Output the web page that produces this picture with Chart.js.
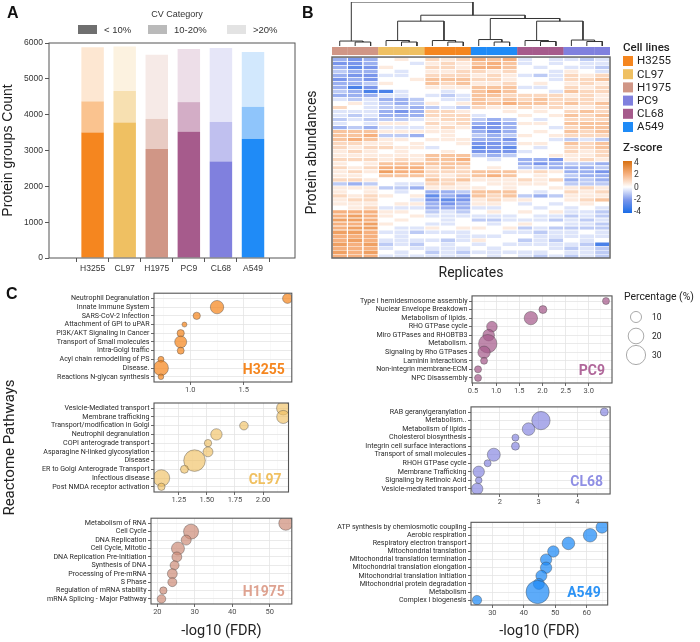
<!DOCTYPE html>
<html lang="en">
<head>
<meta charset="UTF-8" />
<title>Proteome overview of six NSCLC cell lines</title>
<script src="https://cdn.jsdelivr.net/npm/chart.js@4.4.1/dist/chart.umd.min.js"></script>
<style>
  body { margin: 0; background: #fff; overflow: hidden; }
  #fig { position: relative; width: 700px; height: 642px; background: #fff; }
  #fig canvas { position: absolute; }
  .tag { position: absolute; z-index: 5; font: bold 16px "Liberation Sans", Arial, sans-serif; color: #111; }
</style>
</head>
<body>
<div id="fig">
  <canvas id="barA" width="345" height="282" style="left:0;top:0"></canvas>
  <canvas id="dendro" width="320" height="47" style="left:300px;top:0"></canvas>
  <canvas id="heat" width="400" height="244" style="left:300px;top:40px"></canvas>
  <canvas id="cH3255" width="300" height="111" style="left:0;top:285px"></canvas>
  <canvas id="cCL97" width="300" height="220" style="left:0;top:340px"></canvas>
  <canvas id="cH1975" width="300" height="132" style="left:0;top:510px"></canvas>
  <canvas id="cPC9" width="400" height="111" style="left:300px;top:286px"></canvas>
  <canvas id="cCL68" width="320" height="112" style="left:300px;top:397px"></canvas>
  <canvas id="cA549" width="320" height="132" style="left:300px;top:510px"></canvas>
  <div class="tag" style="left:7px;top:4px">A</div>
  <div class="tag" style="left:302px;top:4px">B</div>
  <div class="tag" style="left:6px;top:285px">C</div>
</div>

<script>
  // ---------- panel A: protein groups per CV category ----------
  const cellLines = ['H3255', 'CL97', 'H1975', 'PC9', 'CL68', 'A549'];
  const cvLow  = [3500, 3780, 3040, 3520, 2690, 3330];   // < 10%
  const cvMid  = [870, 880, 840, 830, 1110, 890];        // 10-20%
  const cvHigh = [1510, 1240, 1790, 1480, 2060, 1530];   // > 20%
  const countTicks = [0, 1000, 2000, 3000, 4000, 5000, 6000];

  // ---------- panel B: z-scored heatmap ----------
  const heatGroups = ['H1975', 'CL97', 'H3255', 'A549', 'CL68', 'PC9'];
  const zCodes = 'abcdefghijklmnopq'; // a = -4 ... i = 0 ... q = +4 (steps of 0.5)
  const heatRows = [
    'fef iji kjk mlm hih hgh', 'eef iih jkj lml hih ihh', 'fde jii kkj mml ihi hhg',
    'gff ihi jjk kjk iih jih', 'fee hhi kkk jkj hgh kjk', 'efe iij lll kkj iih kkl',
    'ffg jii lkl jjk iji jkj', 'fce iii jjj lll hhi kjk', 'gfc chi ihi lml iih lkk',
    'fff hhi hgh llk kkk jkj', 'hgh ffg ihh lkl klk kkj', 'ijh gfg jij llm llk lkl',
    'kih ggf ghg kjj kjk jjk', 'hhh fef kkj iij iji klk', 'hgh fff kkk hii jij lkl',
    'ghg ggh jkk gfg ihi kkk', 'hih jji kjk fef jji lll', 'fgf hhh jkj eef iih kll',
    'lll jjj jji fef iji lkl', 'llm ggf iji gfg jij kkk', 'lml jji jjj ffe iih ghg',
    'kkj jij iij eef jji lkl', 'kjk kjj hii ded ihi kkl', 'jkj iji iji eee hii kjk',
    'jjj jjj lll gfg iij jjk', 'kkk jkj llm ihi ffe jkj', 'jij lll lll iii fef ggf',
    'kjk mmm klk iji ggf ffg', 'jkj nmm kkk lll jkj ffe', 'jji lll kjk lml iji gff',
    'kkj iii lkl jjj kjk fgf', 'gfg ihh kkj ijj jji ggg', 'jjj ggf jjj jij iij jkj',
    'jij ihi ffg lll ihi kjk', 'kjk jij dfe lkl gfg jjj', 'jkk iih ede jkj jii jkl',
    'jjj ijj fef jji hih iji', 'ijk hhh fff hhi ihi hih', 'mmm jji ghg iji jij hhg',
    'mnm jij hhh hhh ihh ghg', 'nnm iji ihi ggh hhg hgh', 'mmn jii hhi ihi jii hhg',
    'mnn ihh jij jij ghg ggg', 'nnm hhg hhh iih hgh hih', 'mmm ihi iih hhi ihh hhh',
    'mnm hhh hgh jii ghg ihi', 'nmn ghg ihi hih hhh hgc', 'mmm hih hhh ihi iih ghg',
    'nmn ihi ghg hhh hhi hhg', 'mmm hhh hhh ihi hgh ghg'
  ];
  // hclust-style merges: negative = leaf (1-based column), positive = earlier merge; last = height
  const dendroMerges = [
    [-2, -3, 4], [-1, 1, 5], [-5, -6, 4], [-4, 3, 5.5], [-8, -9, 4], [-7, 5, 5.5],
    [-11, -12, 4], [-10, 7, 6.5], [-14, -15, 4.5], [-13, 9, 5.5], [-17, -18, 4.5], [-16, 11, 6],
    [4, 6, 25], [10, 12, 25], [8, 14, 27.7], [13, 15, 31], [2, 16, 44.3]
  ];
  const zScoreTicks = ['4', '2', '0', '-2', '-4'];

  // ---------- panel C: Reactome enrichment ----------
  const h3255Paths = ['Neutrophil Degranulation', 'Innate Immune System', 'SARS-CoV-2 Infection', 'Attachment of GPI to uPAR',
    'PI3K/AKT Signaling in Cancer', 'Transport of Small molecules', 'Intra-Golgi traffic', 'Acyl chain remodelling of PS',
    'Disease.', 'Reactions N-glycan synthesis'];
  const h3255Fdr = [1.91, 1.25, 1.06, 0.945, 0.91, 0.91, 0.91, 0.725, 0.725, 0.725];
  const h3255Pct = [8, 14.6, 4.4, 2, 4.4, 11.8, 4, 3, 18.4, 2.6];
  const h3255Ticks = ['1.0', '1.5'];

  const cl97Paths = ['Vesicle-Mediated transport', 'Membrane trafficking', 'Transport/modification in Golgi', 'Neutrophil degranulation',
    'COPI anterograde transport', 'Asparagine N-linked glycosylation', 'Disease', 'ER to Golgi Anterograde Transport',
    'Infectious disease', 'Post NMDA receptor activation'];
  const cl97Fdr = [2.18, 2.18, 1.83, 1.585, 1.51, 1.51, 1.39, 1.30, 1.095, 1.095];
  const cl97Pct = [14.6, 14, 6, 10.6, 4.4, 8, 38, 5.2, 22.6, 4.4];
  const cl97Ticks = ['1.25', '1.50', '1.75', '2.00'];

  const h1975Paths = ['Metabolism of RNA', 'Cell Cycle', 'DNA Replication', 'Cell Cycle, Mitotic', 'DNA Replication Pre-Initiation',
    'Synthesis of DNA', 'Processing of Pre-mRNA', 'S Phase', 'Regulation of mRNA stability', 'mRNA Splicing - Major Pathway'];
  const h1975Fdr = [54.3, 29.0, 27.7, 25.5, 25.2, 24.6, 24.0, 24.0, 21.6, 21.1];
  const h1975Pct = [16, 18.4, 8.2, 13.8, 8, 6.6, 8, 6.6, 4.4, 6];
  const h1975Ticks = ['20', '30', '40', '50'];

  const pc9Paths = ['Type I hemidesmosome assembly', 'Nuclear Envelope Breakdown', 'Metabolism of lipids.', 'RHO GTPase cycle',
    'Miro GTPases and RHOBTB3', 'Metabolism.', 'Signaling by Rho GTPases', 'Laminin interactions',
    'Non-integrin membrane-ECM', 'NPC Disassembly'];
  const pc9Fdr = [3.37, 2.01, 1.75, 0.91, 0.84, 0.82, 0.74, 0.74, 0.61, 0.61];
  const pc9Pct = [4, 5.2, 14.6, 9.2, 11, 27.6, 12.5, 4, 4, 4];
  const pc9Ticks = ['0.5', '1.0', '1.5', '2.0', '2.5', '3.0'];

  const cl68Paths = ['RAB geranylgeranylation', 'Metabolism..', 'Metabolism of lipids', 'Cholesterol biosynthesis',
    'Integrin cell surface interactions', 'Transport of small molecules', 'RHOH GTPase cycle', 'Membrane Trafficking',
    'Signaling by Retinoic Acid', 'Vesicle-mediated transport'];
  const cl68Fdr = [4.70, 3.06, 2.74, 2.40, 2.40, 1.84, 1.68, 1.45, 1.45, 1.41];
  const cl68Pct = [5.2, 27.6, 13, 4, 5.2, 13.8, 4, 10.6, 3.6, 10.6];
  const cl68Ticks = ['2', '3', '4'];

  const a549Paths = ['ATP synthesis by chemiosmotic coupling', 'Aerobic respiration', 'Respiratory electron transport',
    'Mitochondrial translation', 'Mitochondrial translation termination', 'Mitochondrial translation elongation',
    'Mitochondrial translation initiation', 'Mitochondrial protein degradation', 'Metabolism', 'Complex I biogenesis'];
  const a549Fdr = [64.9, 61.1, 54.2, 49.4, 47.1, 47.1, 45.6, 44.8, 44.4, 25.1];
  const a549Pct = [11.8, 15, 13, 10.6, 10.6, 10.6, 10, 10, 44, 7.2];
  const a549Ticks = ['30', '40', '50', '60'];

  const legendPct = [10, 20, 30];

  // ---------- shared helpers ----------
  Chart.defaults.font.family = 'Roboto, sans-serif';
  Chart.defaults.animation = false;
  Chart.defaults.responsive = false;
  Chart.defaults.events = [];
  Chart.defaults.plugins.legend.display = false;
  Chart.defaults.plugins.tooltip.enabled = false;

  const lineRGB = {
    H3255: [245, 134, 31], CL97: [239, 192, 98], H1975: [208, 150, 134],
    PC9: [166, 91, 140], CL68: [128, 128, 222], A549: [31, 139, 247]
  };
  // panel B legend uses its own mapping (PC9/CL68 swapped as in the figure)
  const heatRGB = {
    H3255: [245, 134, 31], CL97: [239, 192, 98], H1975: [208, 150, 134],
    PC9: [128, 128, 222], CL68: [166, 91, 140], A549: [31, 139, 247]
  };
  const tint = (c, a) => `rgb(${c.map(v => Math.round(v * a + 255 * (1 - a))).join(',')})`;
  const rgba = (c, a) => `rgba(${c.join(',')},${a})`;

  const zStops = [[-4, [26, 108, 230]], [-2, [122, 150, 235]], [0, [255, 255, 255]], [2, [246, 176, 126]], [4, [216, 112, 16]]];
  function zColor(z) {
    for (let k = 0; k < zStops.length - 1; k++) {
      const [z0, c0] = zStops[k], [z1, c1] = zStops[k + 1];
      if (z <= z1) {
        const t = (z - z0) / (z1 - z0);
        return `rgb(${c0.map((v, j) => Math.round(v + (c1[j] - v) * t)).join(',')})`;
      }
    }
    return `rgb(${zStops[zStops.length - 1][1].join(',')})`;
  }
  const zOf = ch => (zCodes.indexOf(ch) - 8) / 2;

  const frame = {
    id: 'frame',
    afterDraw(chart, args, opts) {
      const a = chart.chartArea, c = chart.ctx;
      const top = opts.fromValue !== undefined ? chart.scales.y.getPixelForValue(opts.fromValue) : a.top;
      c.save();
      c.strokeStyle = opts.color || '#555';
      c.lineWidth = opts.width || 1;
      c.strokeRect(a.left, top, a.right - a.left, a.bottom - top);
      c.restore();
    }
  };

  // ---------- A ----------
  const cvLegend = {
    id: 'cvLegend',
    afterDraw(chart) {
      const c = chart.ctx;
      c.save();
      c.fillStyle = '#333';
      c.font = '9px "Liberation Sans", Arial, sans-serif';
      c.textAlign = 'center';
      c.textBaseline = 'middle';
      c.fillText('CV Category', 177, 15);
      const items = [['< 10%', '#6f6f6f', 78], ['10-20%', '#bababa', 148], ['>20%', '#e3e3e3', 227]];
      c.textAlign = 'left';
      c.font = '9.5px "Liberation Sans", Arial, sans-serif';
      items.forEach(([t, col, x]) => {
        c.fillStyle = col;
        c.fillRect(x, 25, 19, 9);
        c.fillStyle = '#333';
        c.fillText(t, x + 26, 30);
      });
      c.restore();
    }
  };

  const aFont = { family: '"Liberation Sans", Arial, sans-serif', size: 8.5 };
  new Chart(document.getElementById('barA'), {
    type: 'bar',
    data: {
      datasets: [
        { data: cvLow.map((v, i) => ({ x: i, y: v })), backgroundColor: cellLines.map(n => tint(lineRGB[n], 1)) },
        { data: cvMid.map((v, i) => ({ x: i, y: v })), backgroundColor: cellLines.map(n => tint(lineRGB[n], 0.5)) },
        { data: cvHigh.map((v, i) => ({ x: i, y: v })), backgroundColor: cellLines.map(n => tint(lineRGB[n], 0.2)) }
      ]
    },
    options: {
      layout: { padding: { top: 43, right: 50, left: 0, bottom: 0 } },
      datasets: { bar: { barPercentage: 0.7, categoryPercentage: 1, borderWidth: 0 } },
      scales: {
        x: {
          type: 'linear', stacked: true, min: -0.72, max: 5.67,
          afterBuildTicks: s => { s.ticks = cellLines.map((_, i) => ({ value: i })); },
          afterFit: s => { s.height = 24; },
          ticks: { autoSkip: false, maxRotation: 0, padding: 2, color: '#333', font: aFont, callback: v => cellLines[v] },
          grid: { drawOnChartArea: false, tickLength: 4, color: '#555' },
          border: { display: false }
        },
        y: {
          stacked: true, min: 0, max: 6000,
          afterBuildTicks: s => { s.ticks = countTicks.map(v => ({ value: v })); },
          afterFit: s => { s.width = 49; },
          ticks: { padding: 2, color: '#333', font: aFont, callback: v => String(v) },
          grid: { drawOnChartArea: false, tickLength: 4, color: '#555' },
          border: { display: false },
          title: { display: true, text: 'Protein groups Count', color: '#222', padding: 0,
                   font: { family: '"Liberation Sans", Arial, sans-serif', size: 14 } }
        }
      },
      plugins: { frame: { color: '#555', width: 1 } }
    },
    plugins: [frame, cvLegend]
  });

  // ---------- B: dendrogram ----------
  const leafX = i => i - 0.5;
  const nodeX = [], nodeH = [];
  const childPos = id => id < 0 ? [leafX(-id), 0] : [nodeX[id - 1], nodeH[id - 1]];
  const dendroSets = dendroMerges.map(([a, b, h]) => {
    const [xa, ha] = childPos(a), [xb, hb] = childPos(b);
    nodeX.push((xa + xb) / 2);
    nodeH.push(h);
    return {
      data: [{ x: xa, y: ha }, { x: xa, y: h }, { x: xb, y: h }, { x: xb, y: hb }],
      showLine: true, pointRadius: 0, borderColor: '#333', borderWidth: 1
    };
  });
  new Chart(document.getElementById('dendro'), {
    type: 'scatter',
    data: { datasets: dendroSets },
    options: {
      layout: { padding: { left: 32, right: 10, top: 2, bottom: 1 } },
      scales: {
        x: { type: 'linear', min: 0, max: heatGroups.length * 3, display: false },
        y: { type: 'linear', min: 0, max: 44.3, display: false }
      }
    }
  });

  // ---------- B: heatmap ----------
  const columns = heatGroups.flatMap(g => [g + ' r1', g + ' r2', g + ' r3']);
  const heatSets = [];
  for (let r = heatRows.length - 1; r >= 0; r--) {
    const codes = heatRows[r].replace(/ /g, '');
    heatSets.push({
      data: columns.map(() => 1),
      backgroundColor: [...codes].map(ch => zColor(zOf(ch))),
      borderColor: '#fff', borderWidth: { top: 0.6 }, borderSkipped: false,
      barPercentage: 0.93, categoryPercentage: 1
    });
  }
  heatSets.push({ data: columns.map(() => 0.5), backgroundColor: 'rgba(0,0,0,0)', barPercentage: 1, categoryPercentage: 1 });
  heatSets.push({
    data: columns.map(() => 2),
    backgroundColor: heatGroups.flatMap(g => [0, 1, 2].map(() => tint(heatRGB[g], 1))),
    barPercentage: 1.02, categoryPercentage: 1
  });

  const heatLegend = {
    id: 'heatLegend',
    afterDraw(chart) {
      const c = chart.ctx;
      c.save();
      c.fillStyle = '#222';
      c.textBaseline = 'middle';
      c.font = '500 11.5px Roboto, sans-serif';
      c.fillText('Cell lines', 323, 8);
      c.font = '11.5px Roboto, sans-serif';
      cellLines.forEach((n, i) => {
        const y = 21 + i * 13.2;
        c.fillStyle = tint(heatRGB[n], 1);
        c.fillRect(323, y - 5, 10, 10);
        c.fillStyle = '#222';
        c.fillText(n, 337, y + 0.5);
      });
      c.font = '500 11.5px Roboto, sans-serif';
      c.fillText('Z-score', 323, 108);
      const g = c.createLinearGradient(0, 121, 0, 173);
      zStops.forEach(([z, col]) => g.addColorStop((4 - z) / 8, `rgb(${col.join(',')})`));
      c.fillStyle = g;
      c.fillRect(323, 121, 9, 52);
      c.fillStyle = '#333';
      c.font = '8.5px Roboto, sans-serif';
      zScoreTicks.forEach((t, i) => c.fillText(t, 334, 123 + i * 12.3));
      c.restore();
    }
  };

  new Chart(document.getElementById('heat'), {
    type: 'bar',
    data: { labels: columns, datasets: heatSets },
    options: {
      layout: { padding: { left: 0, right: 90, top: 7, bottom: 0 } },
      scales: {
        x: {
          stacked: true,
          afterFit: s => { s.height = 26; },
          ticks: { display: false }, grid: { display: false }, border: { display: false },
          title: { display: true, text: 'Replicates', color: '#222', padding: 2, font: { size: 14 } }
        },
        y: {
          stacked: true, min: 0, max: heatRows.length + 2.5,
          afterFit: s => { s.width = 32; },
          ticks: { display: false }, grid: { display: false }, border: { display: false },
          title: { display: true, text: 'Protein abundances', color: '#222', padding: 4, font: { size: 14 } }
        }
      },
      plugins: { frame: { color: '#666', width: 1.5, fromValue: heatRows.length } }
    },
    plugins: [frame, heatLegend]
  });

  // ---------- C: pathway bubble panels ----------
  const radiusFor = pct => 1.75 * Math.sqrt(pct);

  function withMinor(labels, min, max) {
    const major = labels.map(Number);
    const half = (major[1] - major[0]) / 2;
    const out = [];
    for (let k = Math.ceil((min - major[0]) / half - 1e-9); major[0] + k * half <= max + 1e-9; k++) {
      const v = +(major[0] + k * half).toFixed(6);
      const idx = major.findIndex(m => Math.abs(m - v) < 1e-6);
      out.push({ value: v, major: idx >= 0, text: idx >= 0 ? labels[idx] : '' });
    }
    return out;
  }

  const panelName = {
    id: 'panelName',
    afterDatasetsDraw(chart, args, opts) {
      const a = chart.chartArea, c = chart.ctx;
      c.save();
      c.fillStyle = opts.color;
      c.font = 'bold 14px Roboto, sans-serif';
      c.textAlign = 'right';
      c.textBaseline = 'middle';
      c.fillText(opts.text, a.right - 7, a.bottom - 12);
      c.restore();
    }
  };

  const pctLegend = {
    id: 'pctLegend',
    afterDraw(chart) {
      const c = chart.ctx;
      c.save();
      c.fillStyle = '#222';
      c.font = '10.4px Roboto, sans-serif';
      c.textBaseline = 'middle';
      c.fillText('Percentage (%)', 324, 11);
      c.font = '8.5px Roboto, sans-serif';
      legendPct.forEach((p, i) => {
        const y = 31 + i * 19;
        c.beginPath();
        c.arc(336, y, radiusFor(p), 0, Math.PI * 2);
        c.strokeStyle = '#a0a0a0';
        c.lineWidth = 0.9;
        c.stroke();
        c.fillStyle = '#222';
        c.fillText(String(p), 352, y + 0.5);
      });
      c.restore();
    }
  };

  function pathwayChart(id, o) {
    const xTicks = withMinor(o.ticks, o.min, o.max);
    new Chart(document.getElementById(id), {
      type: 'bubble',
      data: {
        datasets: [{
          data: o.fdr.map((x, i) => ({ x, y: i, r: radiusFor(o.pct[i]) })),
          backgroundColor: rgba(o.rgb, o.alpha), borderColor: 'rgba(60,60,60,0.55)', borderWidth: 0.7
        }]
      },
      options: {
        layout: { padding: { left: 0, top: o.padTop, right: o.padRight, bottom: 0 } },
        scales: {
          x: {
            type: 'linear', min: o.min, max: o.max,
            afterBuildTicks: s => { s.ticks = xTicks.map(t => ({ ...t })); },
            afterFit: s => { s.height = o.xH; },
            ticks: { autoSkip: false, maxRotation: 0, padding: 1, color: '#4d4d4d', font: { size: 7.5 },
                     callback: (v, i, t) => t[i].text },
            grid: {
              color: c => c.tick && c.tick.major ? '#e4e4e4' : '#f2f2f2',
              lineWidth: c => c.tick && c.tick.major ? 0.8 : 0.5,
              tickColor: c => c.tick && c.tick.major ? '#444' : 'rgba(0,0,0,0)',
              tickLength: 3
            },
            border: { display: false },
            title: o.xTitle
              ? { display: true, text: '-log10 (FDR)', color: '#222', padding: 2, font: { size: 14.5 } }
              : { display: false }
          },
          y: {
            type: 'linear', reverse: true, min: -0.6, max: o.names.length - 0.4,
            afterBuildTicks: s => { s.ticks = o.names.map((_, i) => ({ value: i })); },
            afterFit: s => { s.width = o.yW; },
            ticks: { autoSkip: false, padding: 1.5, color: '#2b2b2b', font: { size: 7.1 }, callback: v => o.names[v] },
            grid: { color: '#e4e4e4', lineWidth: 0.8, tickColor: '#444', tickLength: 3 },
            border: { display: false },
            title: o.yTitle
              ? { display: true, text: 'Reactome Pathways', color: '#222', padding: 1, font: { size: 15 } }
              : { display: false }
          }
        },
        plugins: {
          frame: { color: '#555', width: 1.1 },
          panelName: { text: o.label, color: o.nameColor }
        }
      },
      plugins: [frame, panelName].concat(o.extra || [])
    });
  }

  pathwayChart('cH3255', { names: h3255Paths, fdr: h3255Fdr, pct: h3255Pct, ticks: h3255Ticks, min: 0.66, max: 1.95,
    rgb: lineRGB.H3255, alpha: 0.72, label: 'H3255', nameColor: '#f5861f', padTop: 6, padRight: 5, xH: 14, yW: 154 });
  pathwayChart('cCL97', { names: cl97Paths, fdr: cl97Fdr, pct: cl97Pct, ticks: cl97Ticks, min: 1.029, max: 2.227,
    rgb: lineRGB.CL97, alpha: 0.65, label: 'CL97', nameColor: '#f0c060', padTop: 63, padRight: 5, xH: 68, yW: 154, yTitle: true });
  pathwayChart('cH1975', { names: h1975Paths, fdr: h1975Fdr, pct: h1975Pct, ticks: h1975Ticks, min: 18.3, max: 55.9,
    rgb: [205, 140, 120], alpha: 0.7, label: 'H1975', nameColor: '#dea290', padTop: 6, padRight: 4, xH: 38, yW: 151, xTitle: true });
  pathwayChart('cPC9', { names: pc9Paths, fdr: pc9Fdr, pct: pc9Pct, ticks: pc9Ticks, min: 0.48, max: 3.5,
    rgb: lineRGB.PC9, alpha: 0.72, label: 'PC9', nameColor: '#b0679a', padTop: 6, padRight: 88, xH: 14, yW: 172, extra: [pctLegend] });
  pathwayChart('cCL68', { names: cl68Paths, fdr: cl68Fdr, pct: cl68Pct, ticks: cl68Ticks, min: 1.25, max: 4.85,
    rgb: lineRGB.CL68, alpha: 0.65, label: 'CL68', nameColor: '#8f8fe4', padTop: 6, padRight: 8, xH: 15, yW: 171 });
  pathwayChart('cA549', { names: a549Paths, fdr: a549Fdr, pct: a549Pct, ticks: a549Ticks, min: 23.2, max: 66.7,
    rgb: lineRGB.A549, alpha: 0.72, label: 'A549', nameColor: '#2d93f5', padTop: 6, padRight: 8, xH: 37, yW: 171, xTitle: true });
</script>
</body>
</html>
